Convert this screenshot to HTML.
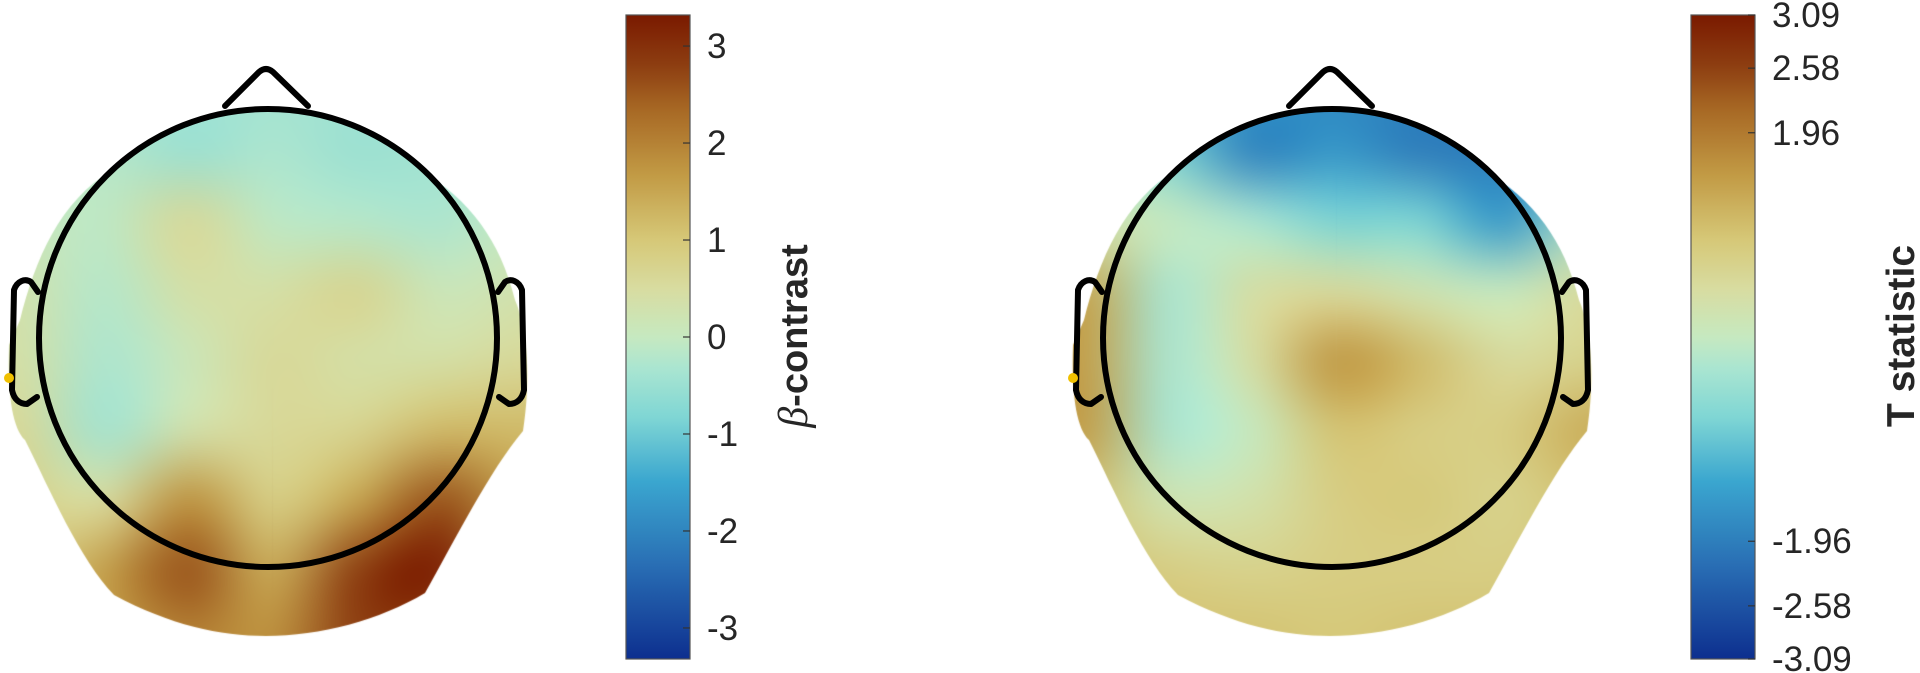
<!DOCTYPE html>
<html><head><meta charset="utf-8">
<style>
html,body{margin:0;padding:0;background:#fff;width:1920px;height:673px;overflow:hidden}
#wrap{position:relative;width:1920px;height:673px}
canvas,svg{position:absolute;left:0;top:0}
text{font-family:"Liberation Sans",Arial,sans-serif;fill:#262626}
</style></head><body>
<div id="wrap">
<canvas id="cv" width="1920" height="673"></canvas>
<svg id="sv" width="1920" height="673"></svg>
</div>
<script>
// grid rows (panel-relative y) and cols (panel-relative x)
const gridCols = [20,105,190,275,360,445,525];
const gridRows = [80,150,220,290,360,430,500,570,640];
// beta-contrast values (rows top->bottom)
const betaValues = [
 [-0.2,-0.3,-0.4,-0.4,-0.4,-0.3,-0.2],
 [0.0,-0.2,-0.5,-0.3,-0.5,-0.4,-0.2],
 [0.1,-0.1,0.6,-0.1,-0.2,-0.3,0.0],
 [0.3,-0.2,0.4,0.4,0.7,0.1,0.3],
 [0.4,-0.3,0.1,0.6,0.4,0.4,0.6],
 [0.6,-0.4,0.3,0.6,0.7,1.2,1.2],
 [0.8,0.5,1.8,0.8,1.5,2.6,1.5],
 [0.8,1.6,2.6,1.4,2.8,3.3,1.2],
 [1.0,1.5,2.0,1.8,2.8,2.6,1.0]
];
// T statistic values
const tValues = [
 [-0.8,-1.0,-1.5,-1.8,-1.8,-1.5,-1.0],
 [-0.3,-0.8,-1.9,-1.6,-2.0,-1.9,-0.8],
 [0.3,0.0,-0.3,-0.8,-0.8,-1.6,-0.2],
 [1.4,-0.3,0.4,0.5,0.2,0.0,0.5],
 [1.5,-0.3,0.4,1.6,1.1,0.5,0.7],
 [1.5,-0.3,0.0,1.0,0.8,0.8,1.3],
 [1.0,0.2,0.3,0.8,0.9,0.7,1.0],
 [1.0,0.8,0.7,0.8,0.8,0.8,1.0],
 [1.0,1.0,1.0,0.9,1.0,1.0,1.0]
];
const betaTicks = [3,2,1,0,-1,-2,-3];
const betaTickLabels = ["3","2","1","0","-1","-2","-3"];
const betaRange = [-3.32,3.32];
const tTicks = [3.09,2.58,1.96,-1.96,-2.58,-3.09];
const tTickLabels = ["3.09","2.58","1.96","-1.96","-2.58","-3.09"];
const tRange = [-3.09,3.09];

const cmapStops = [
 [-1,[13,47,143]],[-0.7,[42,112,181]],[-0.45,[58,166,207]],[-0.25,[127,214,212]],
 [-0.1,[169,229,209]],[0,[198,233,192]],[0.15,[216,220,160]],[0.3,[214,200,120]],
 [0.5,[194,155,69]],[0.7,[168,106,37]],[0.85,[140,60,16]],[1,[122,26,0]]
];
function cmap(t){
  t=Math.max(-1,Math.min(1,t));
  for(let i=1;i<cmapStops.length;i++){
    if(t<=cmapStops[i][0]){
      const a=cmapStops[i-1],b=cmapStops[i],f=(t-a[0])/(b[0]-a[0]);
      return a[1].map((v,k)=>Math.round(v+(b[1][k]-v)*f));
    }
  }
  return cmapStops[cmapStops.length-1][1];
}
const NS="http://www.w3.org/2000/svg";
const sv=document.getElementById('sv');
const ctx=document.getElementById('cv').getContext('2d');
function el(tag,attrs,parent){const e=document.createElementNS(NS,tag);for(const k in attrs)e.setAttribute(k,attrs[k]);(parent||sv).appendChild(e);return e;}

const headPath="M113,170 C60,200 35,260 20,320 L9,345 C7,400 14,430 25,440 C50,490 80,560 114,595 C170,625 220,636 266,636 C320,636 380,620 425,593 C455,540 490,470 523,431 C531,380 528,330 515,300 C500,240 470,200 420,170 Z";
const CX=268,CY=338,R=229;

function drawPanel(ox,values,range,cb,ticks,labels,isBeta){
  const nc=gridCols.length,nr=gridRows.length;
  const off=document.createElement('canvas');off.width=nc;off.height=nr;
  const octx=off.getContext('2d');const img=octx.createImageData(nc,nr);
  const half=range[1];
  for(let r=0;r<nr;r++)for(let c=0;c<nc;c++){
    const col=cmap(values[r][c]/half);const i=(r*nc+c)*4;
    img.data[i]=col[0];img.data[i+1]=col[1];img.data[i+2]=col[2];img.data[i+3]=255;
  }
  octx.putImageData(img,0,0);
  const dx=(gridCols[nc-1]-gridCols[0])/(nc-1),dy=(gridRows[nr-1]-gridRows[0])/(nr-1);
  // upscale field into a buffer canvas
  const buf=document.createElement('canvas');buf.width=560;buf.height=673;
  const bctx=buf.getContext('2d');
  bctx.imageSmoothingEnabled=true;bctx.imageSmoothingQuality='high';
  bctx.drawImage(off,gridCols[0]-dx/2,gridRows[0]-dy/2,dx*nc,dy*nr);
  const clips=[new Path2D(headPath)];
  const cp=new Path2D();cp.arc(CX,CY,R,0,Math.PI*2);clips.push(cp);
  clips.forEach(p=>{
    ctx.save();ctx.translate(ox,0);ctx.clip(p);
    ctx.drawImage(buf,0,0);
    ctx.restore();
  });
  const g=el('g',{transform:`translate(${ox},0)`});
  
  
  const st={fill:'none',stroke:'#000','stroke-width':6,'stroke-linejoin':'round','stroke-linecap':'round'};
  const head=el('circle',Object.assign({cx:CX,cy:CY,r:R},st),g);
  
  const nose=el('path',Object.assign({d:"M225,106 L259,72 Q266,66 273,72 L308,106"},st),g);
  
  const ed="M38,292 L31,282 C25,278 17,281 14,290 L12,390 C14,400 20,404 27,404 L37,397";
  const le=el('path',Object.assign({d:ed},st),g);
  
  const re=el('path',Object.assign({d:ed,transform:`translate(${2*CX},0) scale(-1,1)`},st),g);
  
  const dot=el('circle',{cx:9,cy:378,r:5,fill:'#f0c000'},g);
  
  const y0=15,y1=659;
  const gid='grad'+ox;
  const defs=el('defs',{});
  const lg=el('linearGradient',{id:gid,x1:0,y1:1,x2:0,y2:0},defs);
  for(let i=0;i<=40;i++){const t=-1+i/20;const c=cmap(t);el('stop',{offset:(i/40),'stop-color':`rgb(${c})`},lg);}
  const cbg=el('g',{});
  
  el('rect',{x:cb,y:y0,width:64,height:y1-y0,fill:`url(#${gid})`,stroke:'#555','stroke-width':1.2},cbg);
  const ys=v=>y0+(range[1]-v)/(range[1]-range[0])*(y1-y0);
  ticks.forEach((v,i)=>{
    const y=ys(v);
    const tk=el('line',{x1:cb+64,x2:cb+57,y1:y,y2:y,stroke:'#333','stroke-width':1.2},cbg);
    
    const tx=el('text',{x:cb+81,y:y+12,'font-size':35},cbg);tx.textContent=labels[i];
    
  });
}
drawPanel(0,betaValues,betaRange,626,betaTicks,betaTickLabels,true);
drawPanel(1064,tValues,tRange,1691,tTicks,tTickLabels,false);
const bl=el('text',{transform:'translate(807,336) rotate(-90)','text-anchor':'middle','font-size':38,'font-weight':'bold'});

const bs=el('tspan',{'font-family':'Liberation Serif, serif','font-style':'italic','font-weight':'normal','font-size':42},bl);bs.textContent='β';
const bt=el('tspan',{},bl);bt.textContent='-contrast';
const tl=el('text',{transform:'translate(1914,336) rotate(-90)','text-anchor':'middle','font-size':39,'font-weight':'bold'});

tl.textContent='T statistic';
</script>
</body></html>
